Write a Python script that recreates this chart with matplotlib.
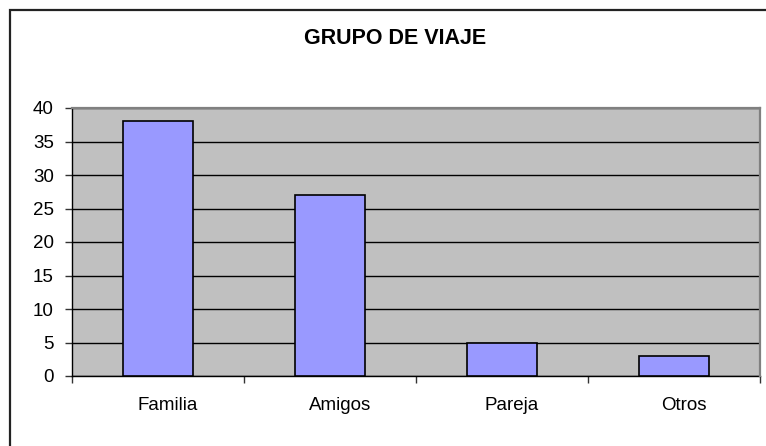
import matplotlib
matplotlib.use("Agg")
import matplotlib.pyplot as plt
import matplotlib.transforms as mtransforms
from matplotlib.patches import Rectangle

categories = ["Familia", "Amigos", "Pareja", "Otros"]
values = [38, 27, 5, 3]
yticks = [0, 5, 10, 15, 20, 25, 30, 35, 40]

plt.rcParams['font.family'] = ['Liberation Sans', 'DejaVu Sans']

fig = plt.figure(figsize=(7.66, 4.46), dpi=100)
ax = fig.add_axes([72 / 766, 1 - 376 / 446, (760 - 72) / 766, (376 - 108) / 446])

# outer chart border (only top/left visible in the picture)
fig.patches.append(Rectangle((10 / 766, -0.1), 1.2, 1 - 9.5 / 446 + 0.1,
                             transform=fig.transFigure, fill=False,
                             edgecolor="#222222", linewidth=1.6))

ax.set_facecolor("#C0C0C0")
x = list(range(len(categories)))
ax.bar(x, values, width=0.41, color="#9999FF", edgecolor="black",
       linewidth=1.2, zorder=3)

ax.set_xlim(-0.5, len(categories) - 0.5)
ax.set_ylim(0, 40)
ax.set_yticks(yticks)
ax.yaxis.grid(True, color="black", linewidth=1)
ax.set_axisbelow(True)

# x ticks at category boundaries, labels at centres (slightly shifted like Excel)
ax.set_xticks([i + 0.5 for i in range(-1, len(categories))])
ax.set_xticklabels([])
ax.set_xticks(x, minor=True)
ax.set_xticklabels(categories, minor=True)
ax.tick_params(axis="x", which="minor", length=0, pad=15, labelsize=13.5)
ax.tick_params(axis="x", which="major", length=5, width=1, color="#333333")
ax.tick_params(axis="y", length=5, width=1, pad=8, labelsize=13.5, color="#333333")
offset = mtransforms.ScaledTranslation(10 / 100, 0, fig.dpi_scale_trans)
for lab in ax.get_xticklabels(minor=True):
    lab.set_transform(lab.get_transform() + offset)

for side in ["left", "bottom"]:
    ax.spines[side].set_color("black")
    ax.spines[side].set_linewidth(1)
for side in ["top", "right"]:
    ax.spines[side].set_color("#808080")
    ax.spines[side].set_linewidth(1.6)
    ax.spines[side].set_zorder(5)

fig.text(395 / 766, 1 - 38 / 446, "GRUPO DE VIAJE", ha="center", va="center",
         fontsize=15.5, fontweight="bold")

fig.savefig("out.png", dpi=100, facecolor="white")
